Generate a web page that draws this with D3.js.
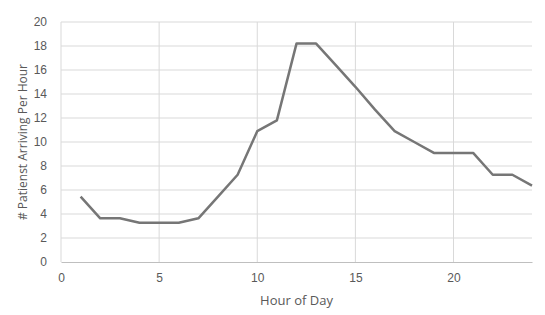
<!DOCTYPE html>
<html>
<head>
<meta charset="utf-8">
<script src="https://cdn.jsdelivr.net/npm/d3@7"></script>
<style>
  body { margin: 0; background: #fff; }
  svg { display: block; font-family: "Open Sans", "DejaVu Sans", sans-serif; }
</style>
</head>
<body>
<svg></svg>
<script>
const hours = [1, 2, 3, 4, 5, 6, 7, 8, 9, 10, 11, 12, 13, 14, 15, 16, 17, 18, 19, 20, 21, 22, 23, 24]
const arrivals = [5.45, 3.64, 3.64, 3.27, 3.27, 3.27, 3.64, 5.45, 7.27, 10.9, 11.8, 18.2, 18.2,
  16.4, 14.6, 12.7, 10.9, 10.0, 9.09, 9.09, 9.09, 7.27, 7.27, 6.36]
const xTicks = [0, 5, 10, 15, 20]
const yTicks = [0, 2, 4, 6, 8, 10, 12, 14, 16, 18, 20]

const width = 545
const height = 315
const margin = { top: 22, right: 13, bottom: 53, left: 61 }

const svg = d3.select('svg')
  .attr('width', width)
  .attr('height', height)
  .attr('viewBox', [0, 0, width, height])

const x = d3.scaleLinear().domain([0, 24]).range([margin.left, width - margin.right])
const y = d3.scaleLinear().domain([0, 20]).range([height - margin.bottom, margin.top])

// gridlines
svg.append('g')
  .selectAll('line.h')
  .data(yTicks.slice(1))
  .join('line')
  .attr('x1', x(0)).attr('x2', x(24))
  .attr('y1', d => y(d)).attr('y2', d => y(d))
  .attr('stroke', '#d9d9d9')
  .attr('stroke-width', 1)

svg.append('g')
  .selectAll('line.v')
  .data(xTicks)
  .join('line')
  .attr('x1', d => x(d)).attr('x2', d => x(d))
  .attr('y1', y(0)).attr('y2', y(20))
  .attr('stroke', '#d9d9d9')
  .attr('stroke-width', 1)

// x axis
svg.append('g')
  .attr('transform', 'translate(0,' + y(0) + ')')
  .call(d3.axisBottom(x).tickValues(xTicks).tickSize(0).tickPadding(11))
  .call(g => g.select('.domain').attr('stroke', '#bfbfbf'))
  .call(g => g.selectAll('text').attr('fill', '#595959').attr('font-size', 12).attr('font-family', null))

// y axis
svg.append('g')
  .attr('transform', 'translate(' + x(0) + ',0)')
  .call(d3.axisLeft(y).tickValues(yTicks).tickSize(0).tickPadding(14))
  .call(g => g.select('.domain').remove())
  .call(g => g.selectAll('text').attr('fill', '#595959').attr('font-size', 12).attr('font-family', null))

// line
const line = d3.line()
  .x((d, i) => x(hours[i]))
  .y(d => y(d))

svg.append('path')
  .datum(arrivals)
  .attr('d', line)
  .attr('fill', 'none')
  .attr('stroke', '#767676')
  .attr('stroke-width', 2.5)
  .attr('stroke-linejoin', 'round')

// axis titles
svg.append('text')
  .text('Hour of Day')
  .attr('x', (x(0) + x(24)) / 2)
  .attr('y', 305)
  .attr('text-anchor', 'middle')
  .attr('fill', '#595959')
  .attr('font-size', 13)

svg.append('text')
  .text('# Patienst Arriving Per Hour')
  .attr('transform', 'translate(27,' + ((y(0) + y(20)) / 2) + ') rotate(-90)')
  .attr('text-anchor', 'middle')
  .attr('fill', '#595959')
  .attr('font-size', 12)
</script>
</body>
</html>
